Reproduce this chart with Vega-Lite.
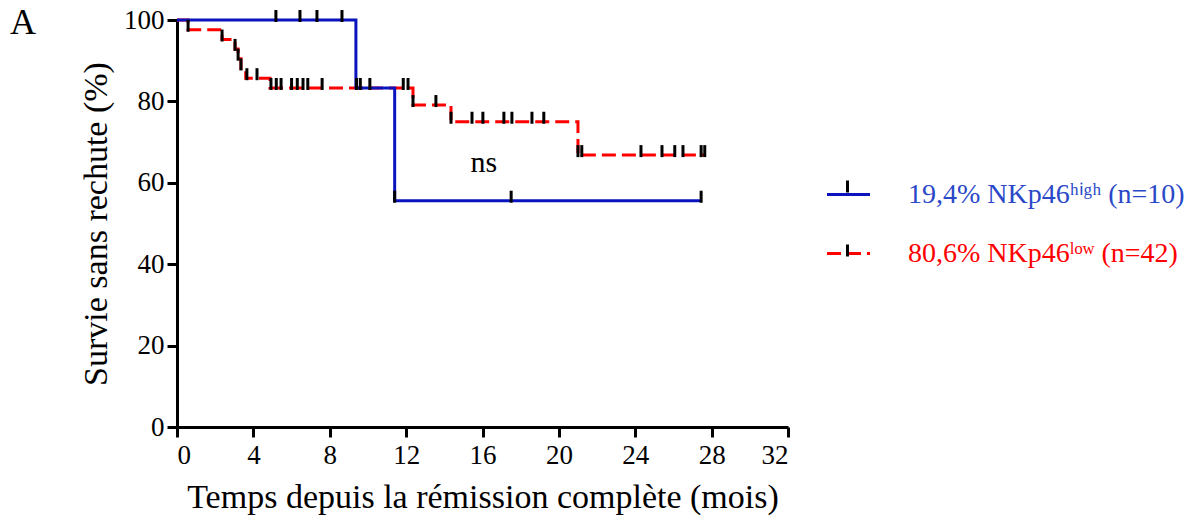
{
  "$schema": "https://vega.github.io/schema/vega-lite/v6.json",
  "autosize": {"type": "none"},
  "width": 611,
  "height": 407,
  "padding": {"left": 177, "top": 20, "right": 413, "bottom": 97},
  "background": "white",
  "config": {
    "view": {"stroke": null},
    "font": "Liberation Serif",
    "axis": {
      "grid": false,
      "domainColor": "black",
      "domainWidth": 3,
      "tickColor": "black",
      "tickWidth": 3,
      "tickSize": 10,
      "labelFont": "Liberation Serif",
      "labelFontSize": 27,
      "labelColor": "black",
      "titleFont": "Liberation Serif",
      "titleFontSize": 34,
      "titleFontWeight": "normal",
      "titleColor": "black"
    }
  },
  "title": {
    "text": "A",
    "anchor": "start",
    "frame": "group",
    "orient": "top",
    "font": "Liberation Serif",
    "fontSize": 36,
    "fontWeight": "normal",
    "color": "black",
    "baseline": "alphabetic",
    "offset": 0,
    "dx": -167,
    "dy": 66
  },
  "datasets": {
    "curves": [
      {"group": "19,4% NKp46ʰⁱᵍʰ (n=10)", "time": 0, "surv": 100},
      {"group": "19,4% NKp46ʰⁱᵍʰ (n=10)", "time": 9.37, "surv": 83.3},
      {"group": "19,4% NKp46ʰⁱᵍʰ (n=10)", "time": 11.4, "surv": 55.6},
      {"group": "19,4% NKp46ʰⁱᵍʰ (n=10)", "time": 27.5, "surv": 55.6},
      {"group": "80,6% NKp46ˡᵒʷ (n=42)", "time": 0, "surv": 100},
      {"group": "80,6% NKp46ˡᵒʷ (n=42)", "time": 0.58, "surv": 97.6},
      {"group": "80,6% NKp46ˡᵒʷ (n=42)", "time": 2.36, "surv": 95.2},
      {"group": "80,6% NKp46ˡᵒʷ (n=42)", "time": 3.04, "surv": 92.9},
      {"group": "80,6% NKp46ˡᵒʷ (n=42)", "time": 3.2, "surv": 90.5},
      {"group": "80,6% NKp46ˡᵒʷ (n=42)", "time": 3.35, "surv": 88.1},
      {"group": "80,6% NKp46ˡᵒʷ (n=42)", "time": 3.6, "surv": 85.7},
      {"group": "80,6% NKp46ˡᵒʷ (n=42)", "time": 4.87, "surv": 83.3},
      {"group": "80,6% NKp46ˡᵒʷ (n=42)", "time": 12.36, "surv": 79.1},
      {"group": "80,6% NKp46ˡᵒʷ (n=42)", "time": 14.35, "surv": 75.0},
      {"group": "80,6% NKp46ˡᵒʷ (n=42)", "time": 21.0, "surv": 66.8},
      {"group": "80,6% NKp46ˡᵒʷ (n=42)", "time": 27.64, "surv": 66.8}
    ],
    "censored": [
      {"arm": "high", "time": 5.18, "surv": 100},
      {"arm": "high", "time": 6.44, "surv": 100},
      {"arm": "high", "time": 7.33, "surv": 100},
      {"arm": "high", "time": 8.64, "surv": 100},
      {"arm": "high", "time": 10.1, "surv": 83.3},
      {"arm": "high", "time": 11.4, "surv": 55.6},
      {"arm": "high", "time": 17.5, "surv": 55.6},
      {"arm": "high", "time": 27.45, "surv": 55.6},
      {"arm": "low", "time": 0.58, "surv": 97.6},
      {"arm": "low", "time": 2.36, "surv": 95.2},
      {"arm": "low", "time": 3.04, "surv": 92.9},
      {"arm": "low", "time": 3.2, "surv": 90.5},
      {"arm": "low", "time": 3.35, "surv": 88.1},
      {"arm": "low", "time": 3.66, "surv": 85.7},
      {"arm": "low", "time": 4.19, "surv": 85.7},
      {"arm": "low", "time": 4.92, "surv": 83.3},
      {"arm": "low", "time": 5.2, "surv": 83.3},
      {"arm": "low", "time": 5.45, "surv": 83.3},
      {"arm": "low", "time": 6.0, "surv": 83.3},
      {"arm": "low", "time": 6.3, "surv": 83.3},
      {"arm": "low", "time": 6.6, "surv": 83.3},
      {"arm": "low", "time": 6.85, "surv": 83.3},
      {"arm": "low", "time": 7.6, "surv": 83.3},
      {"arm": "low", "time": 9.4, "surv": 83.3},
      {"arm": "low", "time": 9.6, "surv": 83.3},
      {"arm": "low", "time": 11.85, "surv": 83.3},
      {"arm": "low", "time": 12.1, "surv": 83.3},
      {"arm": "low", "time": 12.36, "surv": 79.1},
      {"arm": "low", "time": 13.56, "surv": 79.1},
      {"arm": "low", "time": 14.35, "surv": 75.0},
      {"arm": "low", "time": 15.45, "surv": 75.0},
      {"arm": "low", "time": 16.02, "surv": 75.0},
      {"arm": "low", "time": 17.12, "surv": 75.0},
      {"arm": "low", "time": 17.54, "surv": 75.0},
      {"arm": "low", "time": 18.59, "surv": 75.0},
      {"arm": "low", "time": 19.21, "surv": 75.0},
      {"arm": "low", "time": 21.0, "surv": 66.8},
      {"arm": "low", "time": 21.2, "surv": 66.8},
      {"arm": "low", "time": 24.3, "surv": 66.8},
      {"arm": "low", "time": 25.4, "surv": 66.8},
      {"arm": "low", "time": 26.07, "surv": 66.8},
      {"arm": "low", "time": 26.5, "surv": 66.8},
      {"arm": "low", "time": 27.45, "surv": 66.8},
      {"arm": "low", "time": 27.64, "surv": 66.8}
    ],
    "notes": [
      {"time": 16.07, "surv": 62.7, "label": "ns"}
    ]
  },
  "encoding": {
    "x": {
      "field": "time",
      "type": "quantitative",
      "scale": {"domain": [0, 32], "nice": false, "zero": false},
      "axis": {
        "values": [0, 4, 8, 12, 16, 20, 24, 28, 32],
        "title": "Temps depuis la rémission complète (mois)",
        "labelPadding": 5,
        "titlePadding": 12
      }
    },
    "y": {
      "field": "surv",
      "type": "quantitative",
      "scale": {"domain": [0, 100], "nice": false},
      "axis": {
        "values": [0, 20, 40, 60, 80, 100],
        "title": "Survie sans rechute (%)",
        "labelPadding": 3,
        "titlePadding": 10
      }
    }
  },
  "layer": [
    {
      "data": {"name": "curves"},
      "transform": [{"filter": "indexof(datum.group, '(n=42)') >= 0"}],
      "mark": {"type": "line", "interpolate": "step-after", "strokeWidth": 3},
      "encoding": {
        "color": {
          "field": "group",
          "type": "nominal",
          "scale": {
            "domain": ["19,4% NKp46ʰⁱᵍʰ (n=10)", "80,6% NKp46ˡᵒʷ (n=42)"],
            "range": ["#0a14be", "#ff0000"]
          },
          "legend": {
            "orient": "none",
            "legendX": 648,
            "legendY": 151,
            "title": null,
            "padding": 0,
            "symbolType": "stroke",
            "symbolSize": 1850,
            "symbolStrokeWidth": 3,
            "labelFont": "Liberation Serif",
            "labelFontSize": 28,
            "labelOffset": 36,
            "labelLimit": 500,
            "rowPadding": 21,
            "zindex": 0,
            "encode": {
              "labels": {
                "update": {
                  "fill": {"signal": "indexof(datum.value, '(n=10)') >= 0 ? '#2a48c8' : '#ff0000'"}
                }
              }
            }
          }
        },
        "strokeDash": {
          "field": "group",
          "type": "nominal",
          "scale": {
            "domain": ["19,4% NKp46ʰⁱᵍʰ (n=10)", "80,6% NKp46ˡᵒʷ (n=42)"],
            "range": [[1, 0], [14, 6]]
          }
        }
      }
    },
    {
      "data": {"name": "curves"},
      "transform": [{"filter": "indexof(datum.group, '(n=10)') >= 0"}],
      "mark": {"type": "line", "interpolate": "step-after", "strokeWidth": 3},
      "encoding": {
        "color": {"field": "group", "type": "nominal"},
        "strokeDash": {"field": "group", "type": "nominal"}
      }
    },
    {
      "data": {"name": "censored"},
      "mark": {"type": "point", "filled": false, "stroke": "black", "strokeWidth": 3, "strokeCap": "butt", "opacity": 1, "size": 400},
      "encoding": {
        "shape": {
          "field": "arm",
          "type": "nominal",
          "scale": {"domain": ["high", "low"], "range": ["M0,0.2V-1", "M0,0.2V-1"]},
          "legend": {
            "orient": "none",
            "legendX": 659,
            "legendY": 159,
            "title": null,
            "padding": 0,
            "symbolSize": 400,
            "symbolStrokeColor": "black",
            "symbolStrokeWidth": 3,
            "symbolFillColor": "transparent",
            "labelExpr": "''",
            "labelFontSize": 1,
            "labelOffset": 0,
            "rowPadding": 39,
            "zindex": 1
          }
        }
      }
    },
    {
      "data": {"name": "notes"},
      "mark": {"type": "text", "font": "Liberation Serif", "fontSize": 30, "color": "black", "align": "center", "baseline": "alphabetic"},
      "encoding": {"text": {"field": "label"}}
    }
  ]
}
